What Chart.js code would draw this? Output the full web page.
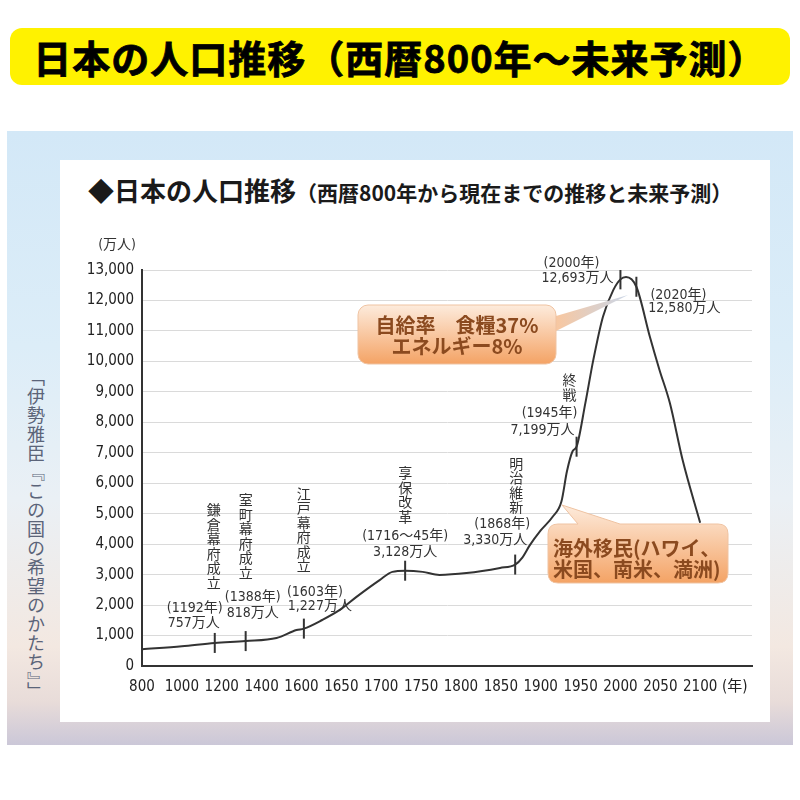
<!DOCTYPE html>
<html lang="ja">
<head>
<meta charset="utf-8">
<title>日本の人口推移</title>
<script src="https://cdn.jsdelivr.net/npm/chart.js@4.4.0/dist/chart.umd.min.js"></script>
<style>
  body { margin:0; width:800px; height:800px; background:#fff; position:relative; overflow:hidden;
         font-family:'Noto Sans CJK JP', sans-serif; }
  #banner { position:absolute; left:10px; top:28px; width:780px; height:57px; background:#fff200;
            border-radius:12px; text-align:center; font-weight:bold; font-size:38px; line-height:57px;
            color:#000; letter-spacing:1px; -webkit-text-stroke:0.8px #000; }
  #frame { position:absolute; left:7px; top:131px; width:786px; height:614px;
           background:linear-gradient(to bottom, #d3e8f7 0%, #dcedf8 35%, #eaf0f5 60%, #f3e8e1 84%, #e8dcd9 93%, #cbc7d8 100%); }
  #panel { position:absolute; left:60px; top:160px; width:710px; height:562px; background:#fff; }
  #subtitle { position:absolute; left:88px; top:172px; line-height:36px; color:#1a1a1a; font-weight:bold; white-space:nowrap; }
  #subtitle .big { font-size:26px; }
  #subtitle .small { font-size:21px; }
  #side { position:absolute; left:23px; top:368px; writing-mode:vertical-rl; font-size:18px;
          letter-spacing:1px; color:#5b6479; }
  #wrap { position:absolute; left:60px; top:160px; width:710px; height:562px; }
  #callouts { position:absolute; left:0; top:0; }
</style>
</head>
<body>
<div id="banner">日本の人口推移（西暦800年〜未来予測）</div>
<div id="frame"></div>
<div id="panel"></div>
<div id="subtitle"><span class="big">◆日本の人口推移</span><span class="small">（西暦800年から現在までの推移と未来予測）</span></div>
<div id="side">「伊勢雅臣『この国の希望のかたち』」</div>
<div id="wrap"><canvas id="graph" width="710" height="562"></canvas></div>
<svg id="callouts" width="800" height="800">
  <defs>
    <linearGradient id="orange" x1="0" y1="0" x2="0" y2="1">
      <stop offset="0" stop-color="#fdebdc"/>
      <stop offset="1" stop-color="#f4a365"/>
    </linearGradient>
    <linearGradient id="tail" x1="0" y1="0" x2="1" y2="0">
      <stop offset="0" stop-color="#f8c7a0"/>
      <stop offset="1" stop-color="#c9d6e8"/>
    </linearGradient>
  </defs>
  <path d="M556 316 L628 295 L556 331 Z" fill="url(#tail)"/>
  <rect x="358" y="305" width="198" height="59" rx="10" fill="url(#orange)" stroke="#efc3a2"/>
  <text x="457" y="333" text-anchor="middle" font-size="20" font-weight="bold" fill="#8b4a1f">自給率　食糧37%</text>
  <text x="457" y="354" text-anchor="middle" font-size="20" font-weight="bold" fill="#8b4a1f">エネルギー8%</text>
  <path d="M558 524 H578 L562 505 L620 524 H718 Q728 524 728 534 V573 Q728 583 718 583 H558 Q548 583 548 573 V534 Q548 524 558 524 Z"
        fill="url(#orange)" stroke="#efc3a2"/>
  <text x="553" y="556" font-size="20" font-weight="bold" fill="#8b4a1f">海外移民(ハワイ、</text>
  <text x="553" y="577" font-size="20" font-weight="bold" fill="#8b4a1f">米国、南米、満洲)</text>
</svg>
<script>
// 横軸の目盛り（等間隔に並ぶが年は不等間隔）
const tickYears = [800, 1000, 1200, 1400, 1600, 1650, 1700, 1750, 1800, 1850, 1900, 1950, 2000, 2050, 2100];
const unitLabel = '(年)';

// 人口の推移（万人）
const years = [800, 1000, 1165, 1320, 1475, 1575, 1603, 1626, 1648, 1669, 1698, 1714, 1730, 1752, 1773,
               1807, 1849, 1868, 1877, 1886, 1900, 1915, 1926, 1933, 1940, 1945, 1956, 1966, 1978, 1991,
               2000, 2007, 2020, 2037, 2049, 2062, 2078, 2100];
const population = [551, 650, 757, 818, 920, 1180, 1227, 1510, 1840, 2270, 2820, 3090, 3128, 3090, 2990,
                    3050, 3220, 3330, 3560, 3950, 4450, 4900, 5400, 6400, 7050, 7199, 8630, 10050, 11460, 12340,
                    12693, 12770, 12450, 10800, 9720, 8630, 6760, 4700];

// 出来事の印
const eventYears = [1165, 1320, 1603, 1730, 1868, 1945, 2000, 2020];
const eventPopulation = [757, 818, 1227, 3128, 3330, 7199, 12693, 12450];
const eventNames = ['鎌倉幕府成立', '室町幕府成立', '江戸幕府成立', '享保改革', '明治維新', '終戦', '', ''];
const eventDates = ['(1192年)', '(1388年)', '(1603年)', '(1716〜45年)', '(1868年)', '(1945年)', '(2000年)', '(2020年)'];
const eventValues = ['757万人', '818万人', '1,227万人', '3,128万人', '3,330万人', '7,199万人', '12,693万人', '12,580万人'];

// ラベルの位置（印からのずれ, px）
const labelOffsets = [
  { vx: -1, vy: -133, ax: -20, ay: -35, bx: -21, by: -20 },
  { vx: 0, vy: -141, ax: 7, ay: -44, bx: 7, by: -28 },
  { vx: 0, vy: -135, ax: 11, ay: -36, bx: 16, by: -22 },
  { vx: 0, vy: -98, ax: 0, ay: -34, bx: 0, by: -18 },
  { vx: 1, vy: -101, ax: -13, ay: -40, bx: -20, by: -24 },
  { vx: -7, vy: -67, ax: -27, ay: -33, bx: -34, by: -16 },
  { vx: 0, vy: 0, ax: -49, ay: -16, bx: -43, by: -1 },
  { vx: 0, vy: 0, ax: 42, ay: 9, bx: 48, by: 22 }
];

function yearToPos(y) {
  let i = 0;
  while (i < tickYears.length - 2 && y > tickYears[i + 1]) i++;
  return i + (y - tickYears[i]) / (tickYears[i + 1] - tickYears[i]);
}

const tickPos = tickYears.map((y, i) => i);
tickPos.push(14.87);

const narrow = "'Liberation Sans Narrow', 'DejaVu Sans Condensed', 'Noto Sans CJK JP', sans-serif";

const labelPlugin = {
  id: 'labels',
  afterDatasetsDraw(chart) {
    const ctx = chart.ctx;
    const xs = chart.scales.x, ys = chart.scales.y;
    ctx.save();
    ctx.fillStyle = '#333';
    ctx.textBaseline = 'middle';
    // 単位
    ctx.font = "14px " + narrow;
    ctx.textAlign = 'right';
    ctx.fillText('(万人)', 76, 85);
    ctx.textAlign = 'center';
    for (let i = 0; i < eventYears.length; i++) {
      const px = xs.getPixelForValue(yearToPos(eventYears[i]));
      const py = ys.getPixelForValue(eventPopulation[i]);
      const o = labelOffsets[i];
      ctx.font = "14px 'Noto Sans CJK JP', sans-serif";
      const chars = Array.from(eventNames[i]);
      chars.forEach((c, k) => ctx.fillText(c, px + o.vx, py + o.vy + k * 14.5));
      ctx.font = "14px " + narrow;
      ctx.fillText(eventDates[i], px + o.ax, py + o.ay);
      ctx.fillText(eventValues[i], px + o.bx, py + o.by);
    }
    ctx.restore();
  }
};

new Chart(document.getElementById('graph'), {
  type: 'line',
  data: {
    datasets: [{
      data: years.map((y, i) => ({ x: yearToPos(y), y: population[i] })),
      borderColor: '#333',
      borderWidth: 2,
      pointRadius: 0,
      cubicInterpolationMode: 'monotone',
      fill: false
    }, {
      data: eventYears.map((y, i) => ({ x: yearToPos(y), y: eventPopulation[i] })),
      showLine: false,
      pointStyle: 'line',
      rotation: 90,
      pointRadius: 10,
      borderWidth: 2,
      borderColor: '#333'
    }]
  },
  options: {
    responsive: false,
    animation: false,
    layout: { padding: { top: 110, left: 0, right: 18, bottom: 0 } },
    plugins: { legend: { display: false }, tooltip: { enabled: false } },
    scales: {
      x: {
        type: 'linear',
        min: 0,
        max: 15.3,
        grid: { display: false, drawTicks: false },
        border: { display: true, color: '#333', width: 2 },
        afterBuildTicks: (scale) => { scale.ticks = tickPos.map(v => ({ value: v })); },
        afterFit: (scale) => { scale.height = 56; },
        ticks: {
          autoSkip: false,
          maxRotation: 0,
          padding: 12,
          color: '#222',
          font: { size: 15, family: narrow },
          callback: (v) => v > 14.5 ? unitLabel : String(tickYears[Math.round(v)])
        }
      },
      y: {
        min: 0,
        max: 13000,
        grid: { color: '#dadada', drawTicks: false },
        border: { display: true, color: '#333', width: 2 },
        afterFit: (scale) => { scale.width = 82; },
        ticks: {
          stepSize: 1000,
          padding: 8,
          color: '#222',
          font: { size: 15, family: narrow },
          callback: (v) => v.toLocaleString('en-US')
        }
      }
    }
  },
  plugins: [labelPlugin]
});
</script>
</body>
</html>
